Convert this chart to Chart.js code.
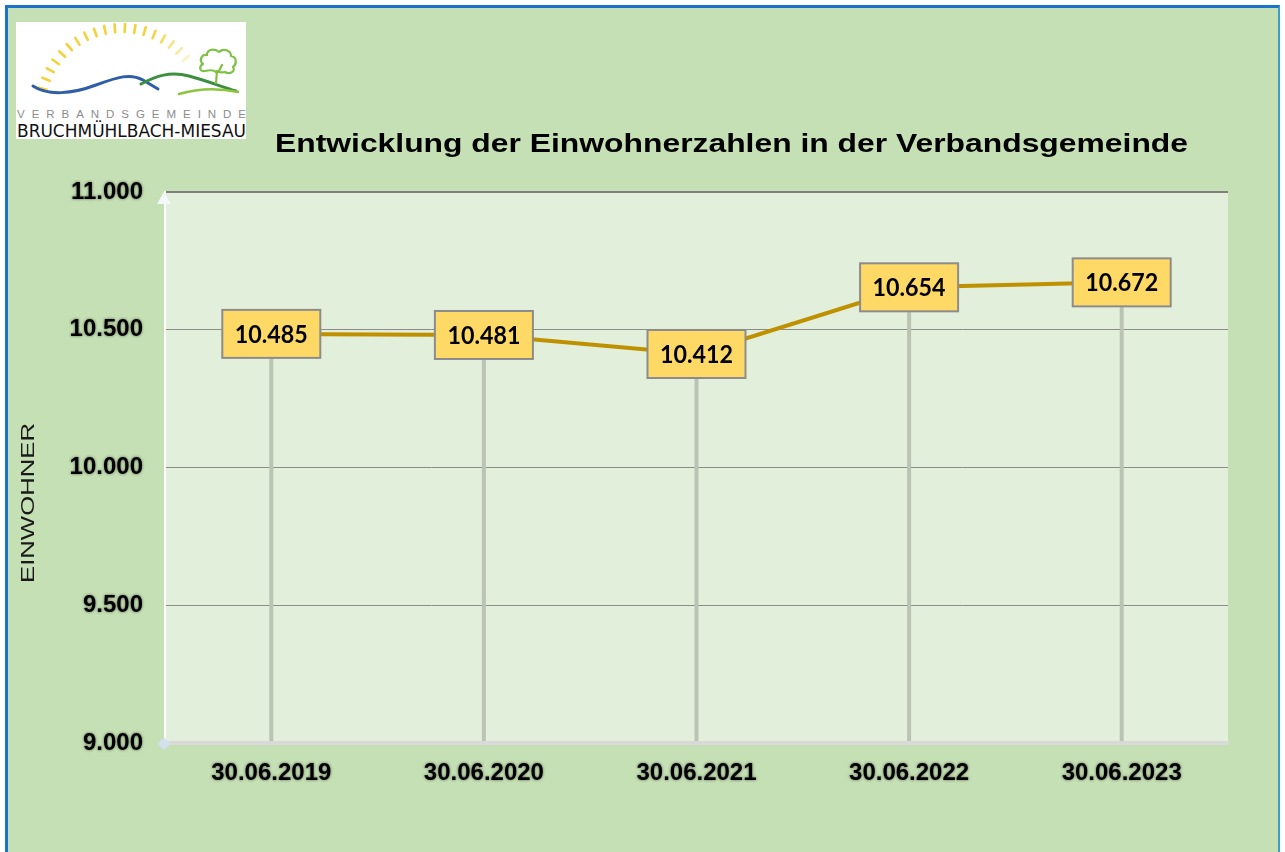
<!DOCTYPE html>
<html>
<head>
<meta charset="utf-8">
<script src="https://cdn.jsdelivr.net/npm/chart.js@4/dist/chart.umd.min.js"></script>
<style>
  html, body { margin: 0; padding: 0; background: #ffffff; width: 1285px; height: 852px; overflow: hidden; }
  #frame { position: absolute; left: 5px; top: 5px; width: 1275px; height: 860px;
           background: #C5E0B4; border-left: 3px solid #1A73C8; border-top: 3px solid #1A73C8;
           border-right: 2px solid #3E9CC8; box-sizing: border-box; }
  #logo { position: absolute; left: 0; top: 0; }
  #c { position: absolute; left: 0; top: 0; }
</style>
</head>
<body>
<div id="frame"></div>
<svg id="logo" width="260" height="150" xmlns="http://www.w3.org/2000/svg">
  <rect x="16" y="22" width="230" height="117" fill="#ffffff"/>
  <g id="rays"></g>
  <path d="M33,86 C48,96 72,94 96,85 C118,77 130,73 143,80 L158,89" fill="none" stroke="#2F5DA6" stroke-width="3" stroke-linecap="round"/>
  <path d="M141,84 C156,76 170,71 189,76 C208,81 222,87 236,91" fill="none" stroke="#3B8F3E" stroke-width="3" stroke-linecap="round"/>
  <path d="M179,94 C196,89 214,87 238,92" fill="none" stroke="#8CC63F" stroke-width="2.5" stroke-linecap="round"/>
  <path d="M216,83 L217,71 M217,73 C214,69 209,70 205,71 C199,72 199,66 203,64 C199,61 201,54 207,55 C207,49 215,48 219,52 C223,48 231,50 231,56 C237,57 237,64 233,67 C236,71 230,75 225,72 C222,73 219,72 217,71 M219,71 L222,65"
        fill="none" stroke="#7DC242" stroke-width="2.2" stroke-linecap="round" stroke-linejoin="round"/>
  <text x="17" y="118" font-family="Liberation Sans, Arial, sans-serif" font-size="11.5" fill="#8C8C8C" textLength="229" lengthAdjust="spacing">VERBANDSGEMEINDE</text>
  <text x="17" y="137" font-family="DejaVu Sans, sans-serif" font-size="18" fill="#111111" textLength="229" lengthAdjust="spacingAndGlyphs">BRUCHMÜHLBACH-MIESAU</text>
</svg>
<canvas id="c" width="1285" height="852"></canvas>
<script>
// ---- data ----
const categories = ['30.06.2019', '30.06.2020', '30.06.2021', '30.06.2022', '30.06.2023'];
const einwohner = [10485, 10481, 10412, 10654, 10672];
const yMin = 9000;
const yMax = 11000;
const yStep = 500;
const chartTitle = 'Entwicklung der Einwohnerzahlen in der Verbandsgemeinde';
const yAxisTitle = 'EINWOHNER';

// sun rays of the logo (decoration)
(function () {
  const g = document.getElementById('rays');
  const cx = 122, cy = 110, r = 86;
  let s = '';
  for (let a = 195; a <= 325; a += 7) {
    const t = a * Math.PI / 180;
    const x1 = cx + r * Math.cos(t), y1 = cy + r * Math.sin(t);
    const x2 = cx + (r - 8) * Math.cos(t), y2 = cy + (r - 8) * Math.sin(t);
    const op = a > 290 ? Math.max(0.25, 1 - (a - 290) / 45) : 1;
    s += `<line x1="${x1.toFixed(1)}" y1="${y1.toFixed(1)}" x2="${x2.toFixed(1)}" y2="${y2.toFixed(1)}" stroke="#F3D23A" stroke-opacity="${op}" stroke-width="2.6" stroke-linecap="round"/>`;
  }
  g.innerHTML = s;
})();

function fmt(v) {
  return String(Math.round(v)).replace(/\B(?=(\d{3})+(?!\d))/g, '.');
}

const plotBg = {
  id: 'plotBg',
  beforeDraw(chart) {
    const { ctx, chartArea: a } = chart;
    ctx.save();
    ctx.fillStyle = '#E2EFDA';
    ctx.fillRect(a.left, a.top, a.right - a.left, a.bottom - a.top);
    ctx.restore();
    // soft glow behind tick labels
    Object.values(chart.scales).forEach(s => {
      if (s._glowPatched) return;
      const orig = s.drawLabels.bind(s);
      s.drawLabels = function (area) {
        const c = s.ctx;
        c.save();
        c.shadowColor = 'rgba(0,0,0,0.55)';
        c.shadowBlur = 3;
        orig(area);
        c.restore();
      };
      s._glowPatched = true;
    });
  }
};

const dropLines = {
  id: 'dropLines',
  beforeDatasetsDraw(chart) {
    const { ctx, chartArea: a } = chart;
    const meta = chart.getDatasetMeta(0);
    ctx.save();
    ctx.strokeStyle = '#BAC4B4';
    ctx.lineWidth = 4;
    meta.data.forEach(p => {
      ctx.beginPath();
      ctx.moveTo(p.x, p.y);
      ctx.lineTo(p.x, a.bottom - 2);
      ctx.stroke();
    });
    ctx.restore();
  }
};

const valueBoxes = {
  id: 'valueBoxes',
  afterDatasetsDraw(chart) {
    const { ctx } = chart;
    const meta = chart.getDatasetMeta(0);
    const vals = chart.data.datasets[0].data;
    ctx.save();
    ctx.font = 'bold 25px Lato, "Open Sans", sans-serif';
    const sx = 73 / ctx.measureText('10.485').width;
    meta.data.forEach((p, i) => {
      const w = 98, h = 48;
      ctx.fillStyle = '#FFD966';
      ctx.fillRect(p.x - w / 2, p.y - h / 2, w, h);
      ctx.strokeStyle = '#8C8C8C';
      ctx.lineWidth = 2;
      ctx.strokeRect(p.x - w / 2, p.y - h / 2, w, h);
      ctx.save();
      ctx.translate(p.x, p.y + 9);
      ctx.scale(sx, 1);
      ctx.fillStyle = '#000000';
      ctx.textAlign = 'center';
      ctx.textBaseline = 'alphabetic';
      ctx.fillText(fmt(vals[i]), 0, 0);
      ctx.restore();
    });
    ctx.restore();
  }
};

const decorations = {
  id: 'decorations',
  afterDraw(chart) {
    const { ctx, chartArea: a } = chart;
    ctx.save();
    // axis arrow at top of y axis
    ctx.fillStyle = '#F4F8FC';
    ctx.beginPath();
    ctx.moveTo(a.left - 1, a.top);
    ctx.lineTo(a.left - 8, a.top + 12);
    ctx.lineTo(a.left + 6, a.top + 12);
    ctx.closePath();
    ctx.fill();
    // diamond at axis origin
    ctx.fillStyle = '#D2E0F0';
    ctx.beginPath();
    ctx.moveTo(a.left - 1, a.bottom - 6);
    ctx.lineTo(a.left + 5, a.bottom + 1);
    ctx.lineTo(a.left - 1, a.bottom + 7);
    ctx.lineTo(a.left - 7, a.bottom + 1);
    ctx.closePath();
    ctx.fill();
    // chart title
    ctx.fillStyle = '#000000';
    ctx.font = 'bold 26px "Liberation Sans", Arial, sans-serif';
    const tw = ctx.measureText(chartTitle).width;
    ctx.save();
    ctx.translate(731.5, 152);
    ctx.scale(913 / tw, 1);
    ctx.textAlign = 'center';
    ctx.textBaseline = 'alphabetic';
    ctx.fillText(chartTitle, 0, 0);
    ctx.restore();
    // y axis title
    ctx.font = '18px "Liberation Sans", Arial, sans-serif';
    const yw = ctx.measureText(yAxisTitle).width;
    ctx.save();
    ctx.translate(34, 503);
    ctx.rotate(-Math.PI / 2);
    ctx.scale(160 / yw, 1);
    ctx.textAlign = 'center';
    ctx.textBaseline = 'alphabetic';
    ctx.fillStyle = '#1A1A1A';
    ctx.fillText(yAxisTitle, 0, 0);
    ctx.restore();
    ctx.restore();
  }
};

const tickFont = { family: '"Liberation Sans", Arial, sans-serif', size: 24, weight: 'bold' };

new Chart(document.getElementById('c'), {
  type: 'line',
  data: {
    labels: categories,
    datasets: [{
      label: yAxisTitle,
      data: einwohner,
      borderColor: '#BF9000',
      borderWidth: 4,
      pointRadius: 0,
      tension: 0,
      fill: false
    }]
  },
  options: {
    responsive: false,
    animation: false,
    layout: { padding: { left: 0, top: 192, right: 57, bottom: 0 } },
    plugins: { legend: { display: false }, title: { display: false }, tooltip: { enabled: false } },
    scales: {
      x: {
        type: 'category',
        offset: true,
        grid: { display: false, drawTicks: false },
        border: { display: true, color: '#D9D9D9', width: 4 },
        ticks: { color: '#000000', font: tickFont, padding: 16, maxRotation: 0 },
        afterFit(s) { s.height = 109; }
      },
      y: {
        min: yMin,
        max: yMax,
        grid: {
          drawTicks: false,
          color: c => c.tick.value === yMin ? 'rgba(0,0,0,0)' : (c.tick.value === yMax ? '#7F7F7F' : '#8C8C8C'),
          lineWidth: c => c.tick.value === yMax ? 2 : 1
        },
        border: { display: true, color: '#FFFFFF', width: 2 },
        ticks: { stepSize: yStep, color: '#000000', font: tickFont, padding: 22, callback: v => fmt(v) },
        afterFit(s) { s.width = 165; }
      }
    }
  },
  plugins: [plotBg, dropLines, valueBoxes, decorations]
});
</script>
</body>
</html>
